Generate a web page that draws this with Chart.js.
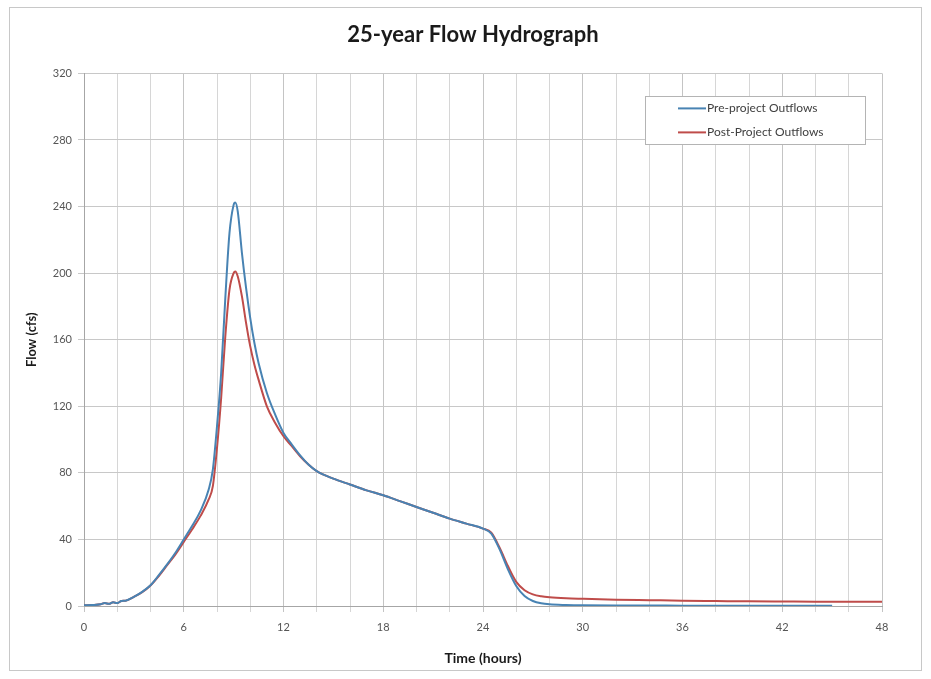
<!DOCTYPE html>
<html>
<head>
<meta charset="utf-8">
<script src="https://cdn.jsdelivr.net/npm/chart.js@4/dist/chart.umd.min.js"></script>
<style>
  html, body { margin: 0; padding: 0; background: #ffffff; }
  #wrap { width: 931px; height: 679px; position: relative; }
</style>
</head>
<body>
<div id="wrap"><canvas id="hydro" width="931" height="679"></canvas></div>
<script>
// Time since storm start (hours)
const hours = [
  0, 0.5, 1, 1.25, 1.5, 1.75, 2, 2.25, 2.5,
  3, 3.5, 4, 4.5, 5, 5.5, 6, 6.5, 7, 7.5,
  7.75, 8, 8.25, 8.5, 8.75, 9, 9.1, 9.25, 9.5, 9.75,
  10, 10.25, 10.5, 11, 11.5, 12, 12.5, 13, 13.5, 14,
  15, 16, 17, 18, 19, 20, 21, 22, 23, 24,
  24.5, 25, 25.5, 26, 26.5, 27, 27.5, 28, 29, 30,
  32, 34, 36, 38, 40, 42, 44, 45, 46, 48
];

// Pre-project outflow (cfs)
const preProjectOutflow = [
  0.5, 0.6, 1.0, 1.8, 1.3, 2.2, 1.8, 3.0, 3.2,
  5.5, 8.5, 12.5, 18.5, 25, 32, 40, 48, 57, 70,
  82, 108, 140, 185, 224, 241, 242.5, 237, 212, 191,
  173, 158, 146, 128, 115, 104, 97, 90.5, 85, 81,
  76.5, 73, 69.5, 66.5, 63, 59.5, 56, 52.5, 49.5, 46.5,
  43.5, 34, 22, 12, 6, 3, 1.6, 1, 0.6, 0.4,
  0.3, 0.3, 0.2, 0.2, 0.2, 0.2, 0.2, 0.2, null, null
];

// Post-project outflow (cfs)
const postProjectOutflow = [
  0.5, 0.6, 1.0, 1.8, 1.3, 2.2, 1.8, 3.0, 3.2,
  5.5, 8.3, 12.3, 18, 24.5, 31, 38.5, 46, 54, 64,
  72, 95, 125, 162, 190, 200, 201, 198, 186, 170,
  156, 145, 136, 120, 110, 102, 96, 90, 85, 81,
  76.5, 73, 69.5, 66.5, 63, 59.5, 56, 52.5, 49.5, 46.5,
  44, 35, 24, 14.5, 9.5, 7, 5.8, 5.2, 4.6, 4.3,
  3.8, 3.5, 3.2, 3.0, 2.8, 2.7, 2.6, 2.6, 2.5, 2.5
];

const seriesNames = ['Pre-project Outflows', 'Post-Project Outflows'];
const xRange = { min: 0, max: 48, gridStep: 2, labelStep: 6 };
const yRange = { min: 0, max: 320, step: 40 };

const FONT = "Lato, 'Open Sans', 'DejaVu Sans', sans-serif";

function toPoints(values) {
  return hours.map((h, i) => ({ x: h, y: values[i] }));
}

// Light frame around the whole figure
const framePlugin = {
  id: 'frame',
  beforeDraw(chart) {
    const ctx = chart.ctx;
    ctx.save();
    ctx.fillStyle = '#ffffff';
    ctx.fillRect(0, 0, chart.width, chart.height);
    ctx.strokeStyle = '#c8c8c8';
    ctx.lineWidth = 1;
    ctx.strokeRect(9.5, 7.5, 912, 663);
    ctx.restore();
  }
};

// Boxed legend inside the upper-right of the plot area
const boxLegendPlugin = {
  id: 'boxLegend',
  afterDatasetsDraw(chart) {
    const { ctx, chartArea } = chart;
    const w = 220, h = 48;
    const x = chartArea.right - 237;
    const y = chartArea.top + 23;
    ctx.save();
    ctx.fillStyle = '#ffffff';
    ctx.fillRect(x, y, w, h);
    ctx.strokeStyle = '#b4b4b4';
    ctx.lineWidth = 1;
    ctx.strokeRect(Math.round(x) + 0.5, Math.round(y) + 0.5, w, h);
    ctx.font = "12px " + FONT;
    ctx.textBaseline = 'middle';
    chart.data.datasets.forEach((ds, i) => {
      const ly = y + 12 + i * 24;
      ctx.strokeStyle = ds.borderColor;
      ctx.lineWidth = 2;
      ctx.beginPath();
      ctx.moveTo(x + 33, ly);
      ctx.lineTo(x + 61, ly);
      ctx.stroke();
      ctx.fillStyle = '#404040';
      ctx.fillText(ds.label, x + 62, ly);
    });
    ctx.restore();
  }
};

new Chart(document.getElementById('hydro'), {
  type: 'line',
  data: {
    datasets: [
      {
        label: seriesNames[0],
        data: toPoints(preProjectOutflow),
        borderColor: '#4883b3',
        borderWidth: 2,
        pointRadius: 0,
        cubicInterpolationMode: 'monotone',
        spanGaps: false,
        fill: false
      },
      {
        label: seriesNames[1],
        data: toPoints(postProjectOutflow),
        borderColor: '#bf4c4a',
        borderWidth: 2,
        pointRadius: 0,
        cubicInterpolationMode: 'monotone',
        fill: false
      }
    ]
  },
  options: {
    responsive: false,
    animation: false,
    devicePixelRatio: 1,
    layout: { padding: { left: 20, right: 5, top: 11, bottom: 12 } },
    plugins: {
      legend: { display: false },
      tooltip: { enabled: false },
      title: {
        display: true,
        text: '25-year Flow Hydrograph',
        color: '#1a1a1a',
        font: { family: FONT, size: 22, weight: 'bold' },
        padding: { top: 11, bottom: 25 }
      }
    },
    scales: {
      x: {
        type: 'linear',
        min: xRange.min,
        max: xRange.max,
        afterFit(s) { s.height = 61; },
        ticks: {
          stepSize: xRange.gridStep,
          autoSkip: false,
          maxRotation: 0,
          padding: 9,
          color: '#555555',
          font: { family: FONT, size: 11 },
          callback: v => (v % xRange.labelStep === 0 ? String(v) : '')
        },
        grid: {
          color: c => (c.tick && c.tick.value % xRange.labelStep === 0 ? '#c4c4c4' : '#d6d6d6'),
          lineWidth: 1,
          tickLength: 6,
          drawTicks: true
        },
        border: { color: '#a6a6a6' },
        title: {
          display: true,
          text: 'Time (hours)',
          color: '#1a1a1a',
          font: { family: FONT, size: 14, weight: 'bold' },
          padding: { top: 0, bottom: 0 }
        }
      },
      y: {
        type: 'linear',
        min: yRange.min,
        max: yRange.max,
        afterFit(s) { s.width = 64; },
        ticks: {
          stepSize: yRange.step,
          padding: 6,
          color: '#555555',
          font: { family: FONT, size: 11 }
        },
        grid: { color: '#c8c8c8', lineWidth: 1, tickLength: 6 },
        border: { color: '#a6a6a6' },
        title: {
          display: true,
          text: 'Flow (cfs)',
          color: '#1a1a1a',
          font: { family: FONT, size: 13, weight: 'bold' },
          padding: { top: 4, bottom: 0 }
        }
      },
      spacer: {
        type: 'linear',
        position: 'right',
        min: 0,
        max: 1,
        afterFit(s) { s.width = 44; },
        ticks: { display: false },
        grid: { display: false, drawTicks: false },
        border: { display: false }
      }
    }
  },
  plugins: [framePlugin, boxLegendPlugin]
});
</script>
</body>
</html>
